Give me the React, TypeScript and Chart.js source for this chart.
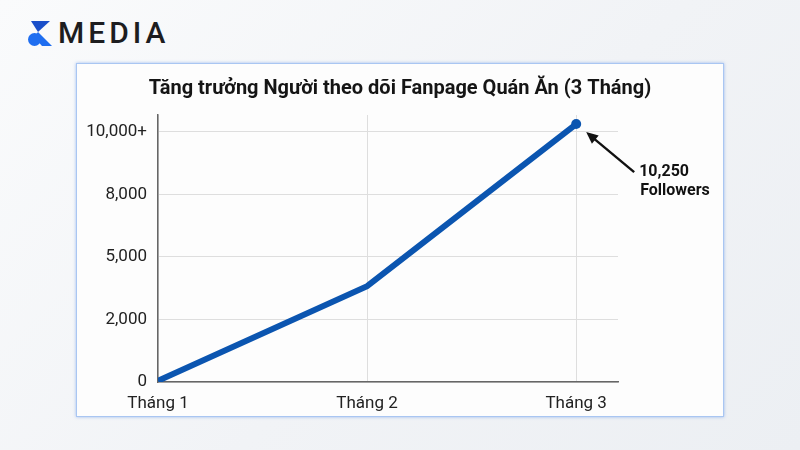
import React, { useEffect, useRef } from "react";
import { Chart, registerables } from "chart.js";

Chart.register(...registerables);

const months = ["Tháng 1", "Tháng 2", "Tháng 3"];
const followers = [40, 3600, 10250];
const yTickValues = [0, 2000, 5000, 8000, 10000];
const yTickLabels = ["0", "2,000", "5,000", "8,000", "10,000+"];
const chartTitle = "Tăng trưởng Người theo dõi Fanpage Quán Ăn (3 Tháng)";
const calloutLines = ["10,250", "Followers"];

// piecewise mapping: each labelled tick is one equal step on the axis
function toAxis(v: number): number {
  for (let i = 0; i < yTickValues.length - 1; i++) {
    const a = yTickValues[i];
    const b = yTickValues[i + 1];
    if (v <= b) return i + (v - a) / (b - a);
  }
  const n = yTickValues.length;
  const a = yTickValues[n - 2];
  const b = yTickValues[n - 1];
  return n - 1 + (v - b) / (b - a);
}

const FONT = "Roboto, 'Noto Sans', Arial, sans-serif";

const titlePlugin = {
  id: "centerTitle",
  afterDraw(chart: any) {
    const ctx = chart.ctx;
    ctx.save();
    ctx.font = `bold 20px ${FONT}`;
    ctx.fillStyle = "#151515";
    ctx.textAlign = "center";
    ctx.textBaseline = "middle";
    ctx.fillText(chartTitle, chart.width / 2, 25);
    ctx.restore();
  },
};

const calloutPlugin = {
  id: "callout",
  afterDatasetsDraw(chart: any) {
    const pt = chart.getDatasetMeta(0).data[2];
    if (!pt) return;
    const ctx = chart.ctx;
    const x = pt.x;
    const y = pt.y;
    const hx = x + 10;
    const hy = y + 8;
    const tx = x + 58;
    const ty = y + 48;
    ctx.save();
    ctx.strokeStyle = "#111";
    ctx.fillStyle = "#111";
    ctx.lineWidth = 2.4;
    const ang = Math.atan2(hy - ty, hx - tx);
    const hl = 13;
    ctx.beginPath();
    ctx.moveTo(tx, ty);
    ctx.lineTo(hx + Math.cos(ang + Math.PI) * hl * 0.6, hy + Math.sin(ang + Math.PI) * hl * 0.6);
    ctx.stroke();
    ctx.beginPath();
    ctx.moveTo(hx, hy);
    ctx.lineTo(hx - hl * Math.cos(ang - 0.42), hy - hl * Math.sin(ang - 0.42));
    ctx.lineTo(hx - hl * Math.cos(ang + 0.42), hy - hl * Math.sin(ang + 0.42));
    ctx.closePath();
    ctx.fill();
    ctx.font = `bold 16px ${FONT}`;
    ctx.textAlign = "left";
    ctx.textBaseline = "middle";
    ctx.fillText(calloutLines[0], x + 63, y + 48);
    ctx.fillText(calloutLines[1], x + 64, y + 67);
    ctx.restore();
  },
};

function LineChart() {
  const ref = useRef<HTMLCanvasElement | null>(null);
  useEffect(() => {
    if (!ref.current) return;
    const chart = new Chart(ref.current, {
      type: "line",
      data: {
        datasets: [
          {
            data: followers.map((v, i) => ({ x: i, y: toAxis(v) })),
            borderColor: "#0b55b0",
            backgroundColor: "#0b55b0",
            borderWidth: 6,
            pointRadius: [0, 0, 5],
            pointHoverRadius: [0, 0, 5],
            pointBorderWidth: 0,
            tension: 0,
            fill: false,
          },
        ],
      },
      options: {
        animation: false,
        responsive: false,
        maintainAspectRatio: false,
        layout: { padding: { left: 0, right: 105, top: 51, bottom: 0 } },
        plugins: {
          legend: { display: false },
          tooltip: { enabled: false },
          title: { display: false },
        },
        scales: {
          x: {
            type: "linear",
            min: 0,
            max: 2.2,
            afterBuildTicks: (scale: any) => {
              scale.ticks = months.map((_, i) => ({ value: i }));
            },
            afterFit: (scale: any) => {
              scale.height = 34;
            },
            ticks: {
              callback: (v: any) => months[v] ?? "",
              color: "#222",
              font: { family: FONT, size: 17 },
              padding: 12,
              maxRotation: 0,
              autoSkip: false,
            },
            grid: { color: "#dedede", lineWidth: 1, drawTicks: false },
            border: { display: true, color: "#666", width: 1.5 },
          },
          y: {
            type: "linear",
            min: 0,
            max: 4.27,
            afterBuildTicks: (scale: any) => {
              scale.ticks = yTickValues.map((_, i) => ({ value: i }));
            },
            afterFit: (scale: any) => {
              scale.width = 81;
            },
            ticks: {
              callback: (v: any) => yTickLabels[v] ?? "",
              color: "#222",
              font: { family: FONT, size: 17 },
              padding: 11,
              autoSkip: false,
            },
            grid: { color: "#dedede", lineWidth: 1, drawTicks: false },
            border: { display: true, color: "#666", width: 1.5 },
          },
        },
      },
      plugins: [titlePlugin, calloutPlugin],
    });
    return () => chart.destroy();
  }, []);
  return <canvas ref={ref} width={646} height={352} style={{ display: "block", width: 646, height: 352 }} />;
}

function Logo() {
  return (
    <div style={{ position: "absolute", left: 28, top: 19, display: "flex", alignItems: "center" }}>
      <svg width="24" height="25" viewBox="0 0 24 25" style={{ marginRight: 6 }}>
        <polygon points="3,0 22,0 10,11" fill="#1a4fc9" />
        <polygon points="10,11 24,25 14,25 6,16" fill="#1f6ef0" />
        <circle cx="6.5" cy="18.5" r="6.5" fill="#1f6ef0" />
      </svg>
      <span
        style={{
          fontFamily: "Roboto, 'Noto Sans', sans-serif",
          fontSize: 30,
          fontWeight: 500,
          letterSpacing: 4,
          color: "#1d1d1f",
          lineHeight: "28px",
        }}
      >
        MEDIA
      </span>
    </div>
  );
}

export default function App() {
  return (
    <div
      style={{
        position: "fixed",
        left: 0,
        top: 0,
        width: 800,
        height: 450,
        overflow: "hidden",
        background: "linear-gradient(135deg, #fafbfc 0%, #f1f3f6 55%, #eceff3 100%)",
      }}
    >
      <Logo />
      <div
        style={{
          position: "absolute",
          left: 76,
          top: 63,
          width: 646,
          height: 352,
          background: "#fdfdfd",
          border: "1px solid #a9c6f2",
          boxShadow: "0 0 3px rgba(90,140,230,0.55)",
        }}
      >
        <LineChart />
      </div>
    </div>
  );
}
